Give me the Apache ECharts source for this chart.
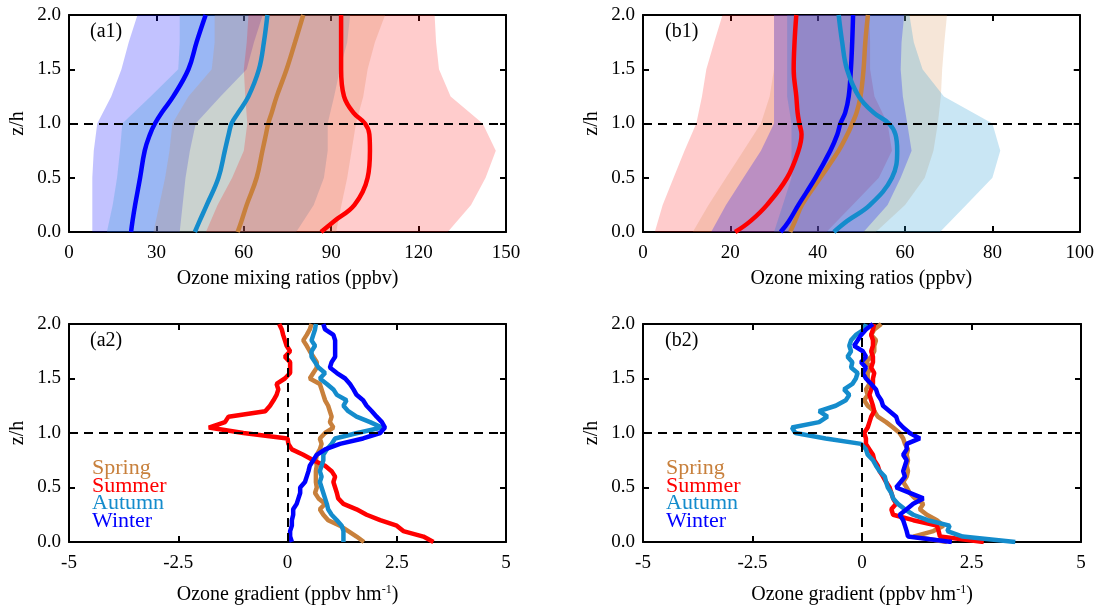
<!DOCTYPE html>
<html>
<head>
<meta charset="utf-8">
<script src="https://cdn.jsdelivr.net/npm/echarts@6/dist/echarts.min.js"></script>
<style>
  html, body { margin: 0; padding: 0; background: #fff; }
  #chart { width: 1097px; height: 610px; }
</style>
</head>
<body>
<div id="chart"></div>
<script>
// heights (z/h) used for the ranges and the mean profiles
const zBand = [0, 0.25, 0.5, 0.75, 1.0, 1.25, 1.5, 1.75, 2.0]
const zMean = [0, 0.1, 0.25, 0.5, 0.75, 0.9, 1.0, 1.1, 1.25, 1.5, 1.75, 2.0]
const zGrad = [0, 0.05, 0.1, 0.15, 0.2, 0.25, 0.3, 0.35, 0.4, 0.45, 0.5, 0.55, 0.6, 0.65, 0.7,
  0.75, 0.8, 0.85, 0.9, 0.95, 1.0, 1.05, 1.1, 1.15, 1.2, 1.25, 1.3, 1.35, 1.4, 1.45, 1.5,
  1.55, 1.6, 1.65, 1.7, 1.75, 1.8, 1.85, 1.9, 1.95, 2.0]

const seasons = ['Spring', 'Summer', 'Autumn', 'Winter']

// (a1) ozone ranges, ppbv
const a1WinterLo = [8, 8, 8, 8.5, 9.7, 14.5, 18, 20.5, 23.5]
const a1WinterHi = [38, 39, 40, 41.5, 43.5, 52, 61, 63.5, 66.5]
const a1AutumnLo = [13, 15, 16.5, 17.5, 18.3, 28, 37.5, 38, 38]
const a1AutumnHi = [78, 84, 87.5, 88.8, 88.8, 91, 93, 95.5, 96.5]
const a1SpringLo = [29, 31, 33, 34.5, 35.5, 41, 49, 50, 50]
const a1SpringHi = [91.7, 93.5, 95.5, 97, 98.5, 101, 102.5, 105, 108.5]
const a1SummerLo = [47, 51, 56, 60, 61.2, 60.5, 60, 61, 61.6]
const a1SummerHi = [130, 138, 143, 146.5, 142, 131, 127, 126, 125.5]
// (a1) mean profiles
const a1Winter = [21.3, 21.8, 22.7, 24.4, 26, 27.8, 29.5, 31.8, 35.8, 41, 43.8, 46.9]
const a1Autumn = [43.2, 44.8, 47.3, 51.3, 53.5, 54.8, 55.8, 58.1, 61.6, 65.2, 66.9, 68.1]
const a1Spring = [57.9, 59.2, 61, 64.4, 66.4, 67.6, 68.4, 69.6, 71.3, 74.7, 77.6, 80.4]
const a1Summer = [86.5, 91, 98, 102.5, 103.3, 103.1, 101.6, 97.6, 94.4, 93.4, 93.4, 93.4]

// (b1) ozone ranges, ppbv
const b1WinterLo = [15.6, 19, 23, 27, 30, 30, 30, 30, 30]
const b1WinterHi = [50.5, 56, 59, 61.5, 60.5, 59.5, 59, 59.2, 59.8]
const b1AutumnLo = [30, 32, 34, 34, 34, 33, 33, 33, 33]
const b1AutumnHi = [68, 74, 80, 81.8, 80, 68.9, 64, 62, 61]
const b1SpringLo = [11.4, 15, 19, 23, 27, 29, 30, 30, 30]
const b1SpringHi = [53.3, 60, 64.5, 66.5, 67.5, 68.2, 68.5, 69, 69.6]
const b1SummerLo = [2.7, 4.5, 7, 9.5, 12.2, 13.5, 14.5, 16.3, 18.2]
const b1SummerHi = [42, 48, 54, 57, 56, 53, 52, 52, 51.8]
// (b1) mean profiles
const b1Winter = [31.5, 33.4, 35.6, 39.5, 42.9, 44.5, 45.2, 46.3, 47.1, 47.6, 47.9, 48.1]
const b1Autumn = [43.7, 46.7, 52, 57, 58.2, 57.8, 56.3, 52.8, 49.4, 46.7, 45.6, 44.8]
const b1Spring = [33.7, 34.8, 36.4, 40.6, 44.8, 46.8, 47.9, 48.9, 49.8, 50.5, 50.9, 51.5]
const b1Summer = [21.1, 24.6, 28.4, 33, 35.6, 36.3, 35.8, 35.4, 35.1, 34.5, 34.7, 35.1]

// (a2) ozone gradient, ppbv hm-1
const a2Spring = [1.75, 1.58, 1.39, 1.2, 0.93, 0.82, 0.74, 0.86, 0.71, 0.63,
  0.67, 0.65, 0.65, 0.65, 0.67, 0.65, 0.67, 0.74, 0.78, 0.74,
  0.86, 1.05, 0.97, 1.01, 0.97, 0.93, 0.86, 0.82, 0.78, 0.74,
  0.51, 0.59, 0.67, 0.67, 0.59, 0.51, 0.44, 0.36, 0.44, 0.51, 0.55]
const a2Summer = [3.34, 3.11, 2.65, 2.5, 2.12, 1.81, 1.58, 1.28, 1.16, 1.13,
  1.09, 1.05, 1.09, 1.01, 0.86, 0.59, 0.36, 0.1, 0.02, 0,
  -1.01, -1.8, -1.43, -1.35, -0.51, -0.4, -0.32, -0.25, -0.21, -0.25,
  -0.06, 0.06, 0.06, 0.06, -0.06, 0.06, -0.02, -0.06, -0.1, -0.13, -0.19]
const a2Autumn = [1.28, 1.28, 1.28, 1.24, 1.13, 1.01, 0.93, 0.9, 0.86, 0.82,
  0.78, 0.74, 0.78, 0.74, 0.78, 0.82, 0.82, 0.9, 1.01, 1.09,
  1.6, 2.16, 1.89, 1.58, 1.39, 1.28, 1.35, 1.13, 1.05, 0.9,
  0.74, 0.86, 0.71, 0.63, 0.55, 0.55, 0.63, 0.55, 0.59, 0.63, 0.65]
const a2Winter = [0.1, 0.06, 0.06, 0.1, 0.1, 0.13, 0.13, 0.21, 0.25, 0.29,
  0.29, 0.4, 0.44, 0.48, 0.51, 0.59, 0.67, 0.86, 1.2, 1.73,
  2.12, 2.23, 2.16, 2.04, 1.93, 1.81, 1.73, 1.58, 1.51, 1.43,
  1.32, 1.13, 0.97, 1.01, 1.09, 1.09, 1.09, 1.09, 1.05, 0.86, 0.82]

// (b2) ozone gradient, ppbv hm-1
const b2Spring = [1.94, 1.17, 1.63, 1.86, 1.71, 1.48, 1.32, 1.4, 1.21, 1.09,
  1.02, 0.94, 1.02, 1.05, 1.02, 1.05, 1.02, 1.05, 0.98, 0.94,
  0.86, 0.71, 0.55, 0.36, 0.28, 0.13, 0.05, 0.13, 0.09, 0.17,
  0.13, 0.13, 0.21, 0.09, 0.21, 0.28, 0.28, 0.32, 0.21, 0.28, 0.44]
const b2Summer = [2.78, 1.78, 1.75, 1.71, 1.17, 0.71, 0.67, 0.78, 0.71, 0.67,
  0.63, 0.55, 0.48, 0.4, 0.36, 0.28, 0.25, 0.17, 0.09, 0.09,
  0.05, 0.13, 0.17, 0.21, 0.28, 0.25, 0.21, 0.17, 0.21, 0.25,
  0.25, 0.28, 0.21, 0.25, 0.25, 0.21, 0.25, 0.25, 0.21, 0.25, 0.28]
const b2Autumn = [3.5, 2.3, 1.95, 2.0, 1.5, 1.17, 0.98, 0.82, 0.71, 0.67,
  0.59, 0.55, 0.52, 0.4, 0.32, 0.25, 0.13, 0.09, -0.02, -0.83,
  -1.52, -1.6, -0.98, -0.79, -0.98, -0.6, -0.37, -0.29, -0.41, -0.22,
  -0.14, -0.1, -0.25, -0.22, -0.33, -0.25, -0.29, -0.25, -0.14, 0.05, 0.09]
const b2Winter = [2.05, 1.05, 1.02, 0.98, 0.94, 0.86, 1.02, 1.17, 1.4, 1.09,
  0.78, 0.88, 0.98, 0.94, 0.98, 1.02, 0.94, 1.02, 1.02, 1.32,
  1.09, 0.94, 0.82, 0.78, 0.63, 0.48, 0.44, 0.36, 0.32, 0.21,
  0.09, 0.02, 0.09, -0.02, 0.09, 0.02, -0.18, -0.1, -0.02, 0.09, 0.25]

const colors = { Spring: '#c8803c', Summer: '#ff0000', Autumn: '#148ccc', Winter: '#0000ff' }
const fills = {
  Spring: 'rgba(210,130,60,0.2)',
  Summer: 'rgba(255,0,0,0.2)',
  Autumn: 'rgba(30,150,210,0.24)',
  Winter: 'rgba(0,0,255,0.24)'
}

const FONT = 'Liberation Serif'
const grids = [
  { left: 69, top: 15, width: 437, height: 217 },
  { left: 643, top: 15, width: 438, height: 217 },
  { left: 69, top: 324, width: 437, height: 218 },
  { left: 643, top: 324, width: 438, height: 218 }
]

const axisLine = { show: true, onZero: false, lineStyle: { color: '#000', width: 2 } }
const axisTick = { show: true, inside: true, length: 6, lineStyle: { color: '#000', width: 2 } }

// bottom + top x axes for one panel
function makeX(gi, min, max, interval, name, gap) {
   return [{
      type: 'value', gridIndex: gi, position: 'bottom', min, max, interval,
      axisLine, axisTick, splitLine: { show: false },
      axisLabel: { color: '#000', fontFamily: FONT, fontSize: 19, margin: 12 },
      name, nameLocation: 'middle', nameGap: gap,
      nameTextStyle: {
         color: '#000', fontFamily: FONT, fontSize: 20,
         rich: {
            n: { fontFamily: FONT, fontSize: 20, color: '#000' },
            sup: { fontFamily: FONT, fontSize: 12, color: '#000', verticalAlign: 'top', padding: [0, 0, 10, 0] }
         }
      }
   }, {
      type: 'value', gridIndex: gi, position: 'top', min, max, interval,
      axisLine, axisTick, splitLine: { show: false }, axisLabel: { show: false }
   }]
}

// left + right y axes for one panel
function makeY(gi) {
   return [{
      type: 'value', gridIndex: gi, position: 'left', min: 0, max: 2, interval: 0.5,
      axisLine, axisTick, splitLine: { show: false },
      axisLabel: { color: '#000', fontFamily: FONT, fontSize: 19, margin: 8, formatter: v => v.toFixed(1) },
      name: 'z/h', nameLocation: 'middle', nameGap: 41,
      nameTextStyle: { color: '#000', fontFamily: FONT, fontSize: 20 }
   }, {
      type: 'value', gridIndex: gi, position: 'right', min: 0, max: 2, interval: 0.5,
      axisLine, axisTick, splitLine: { show: false }, axisLabel: { show: false }
   }]
}

function bandSeries(gi, lo, hi, season) {
   return {
      type: 'custom', xAxisIndex: gi * 2, yAxisIndex: gi * 2, silent: true,
      data: [[lo[0], zBand[0]]],
      renderItem: function (params, api) {
         const front = lo.map((v, k) => api.coord([v, zBand[k]]))
         const back = hi.map((v, k) => api.coord([v, zBand[k]])).reverse()
         return { type: 'polygon', shape: { points: front.concat(back) }, style: { fill: fills[season] } }
      }
   }
}

function lineSeries(gi, xs, zs, season, smooth, width) {
   return {
      type: 'line', name: season, xAxisIndex: gi * 2, yAxisIndex: gi * 2,
      data: xs.map((v, k) => [v, zs[k]]),
      showSymbol: false, smooth: smooth, silent: true,
      lineStyle: { color: colors[season], width: width }, z: 3
   }
}

const dash = { color: '#000', width: 2, type: [9, 6] }
function guides(gi, vertical) {
   const data = [{ yAxis: 1 }]
   if (vertical) data.push({ xAxis: 0 })
   return {
      type: 'line', xAxisIndex: gi * 2, yAxisIndex: gi * 2, data: [], silent: true, z: 4,
      markLine: { symbol: 'none', silent: true, animation: false, label: { show: false }, lineStyle: dash, data }
   }
}

const series = [
   bandSeries(0, a1WinterLo, a1WinterHi, 'Winter'),
   bandSeries(0, a1AutumnLo, a1AutumnHi, 'Autumn'),
   bandSeries(0, a1SpringLo, a1SpringHi, 'Spring'),
   bandSeries(0, a1SummerLo, a1SummerHi, 'Summer'),
   bandSeries(1, b1SummerLo, b1SummerHi, 'Summer'),
   bandSeries(1, b1SpringLo, b1SpringHi, 'Spring'),
   bandSeries(1, b1AutumnLo, b1AutumnHi, 'Autumn'),
   bandSeries(1, b1WinterLo, b1WinterHi, 'Winter'),
   guides(0, false), guides(1, false), guides(2, true), guides(3, true),
   lineSeries(0, a1Winter, zMean, 'Winter', 0.4, 4.5),
   lineSeries(0, a1Autumn, zMean, 'Autumn', 0.4, 4.5),
   lineSeries(0, a1Spring, zMean, 'Spring', 0.4, 4.5),
   lineSeries(0, a1Summer, zMean, 'Summer', 0.4, 4.5),
   lineSeries(1, b1Summer, zMean, 'Summer', 0.4, 4.5),
   lineSeries(1, b1Spring, zMean, 'Spring', 0.4, 4.5),
   lineSeries(1, b1Winter, zMean, 'Winter', 0.4, 4.5),
   lineSeries(1, b1Autumn, zMean, 'Autumn', 0.4, 4.5),
   lineSeries(2, a2Spring, zGrad, 'Spring', false, 4.5),
   lineSeries(2, a2Summer, zGrad, 'Summer', false, 4.5),
   lineSeries(2, a2Autumn, zGrad, 'Autumn', false, 4.5),
   lineSeries(2, a2Winter, zGrad, 'Winter', false, 4.5),
   lineSeries(3, b2Spring, zGrad, 'Spring', false, 4.5),
   lineSeries(3, b2Summer, zGrad, 'Summer', false, 4.5),
   lineSeries(3, b2Autumn, zGrad, 'Autumn', false, 4.5),
   lineSeries(3, b2Winter, zGrad, 'Winter', false, 4.5)
]

const gradName = '{n|Ozone gradient (ppbv hm}{sup|-1}{n|)}'

// panel tags and the colour-coded season legend
const graphic = []
const tags = [['(a1)', 90, 22], ['(b1)', 665, 22], ['(a2)', 90, 331], ['(b2)', 665, 331]]
tags.forEach(t => graphic.push({
   type: 'text', left: t[1], top: t[2],
   style: { text: t[0], font: '20px "Liberation Serif"', fill: '#000' }
}))
;[92, 666].forEach(x => seasons.forEach((s, k) => graphic.push({
   type: 'text', left: x, top: 457 + k * 17.8,
   style: { text: s, font: '22px "Liberation Serif"', fill: colors[s] }
})))

const chart = echarts.init(document.getElementById('chart'))
chart.setOption({
   animation: false,
   backgroundColor: '#fff',
   grid: grids,
   xAxis: [].concat(
      makeX(0, 0, 150, 30, 'Ozone mixing ratios (ppbv)', 37),
      makeX(1, 0, 100, 20, 'Ozone mixing ratios (ppbv)', 37),
      makeX(2, -5, 5, 2.5, gradName, 42),
      makeX(3, -5, 5, 2.5, gradName, 42)
   ),
   yAxis: [].concat(makeY(0), makeY(1), makeY(2), makeY(3)),
   series,
   graphic
})
</script>
</body>
</html>
